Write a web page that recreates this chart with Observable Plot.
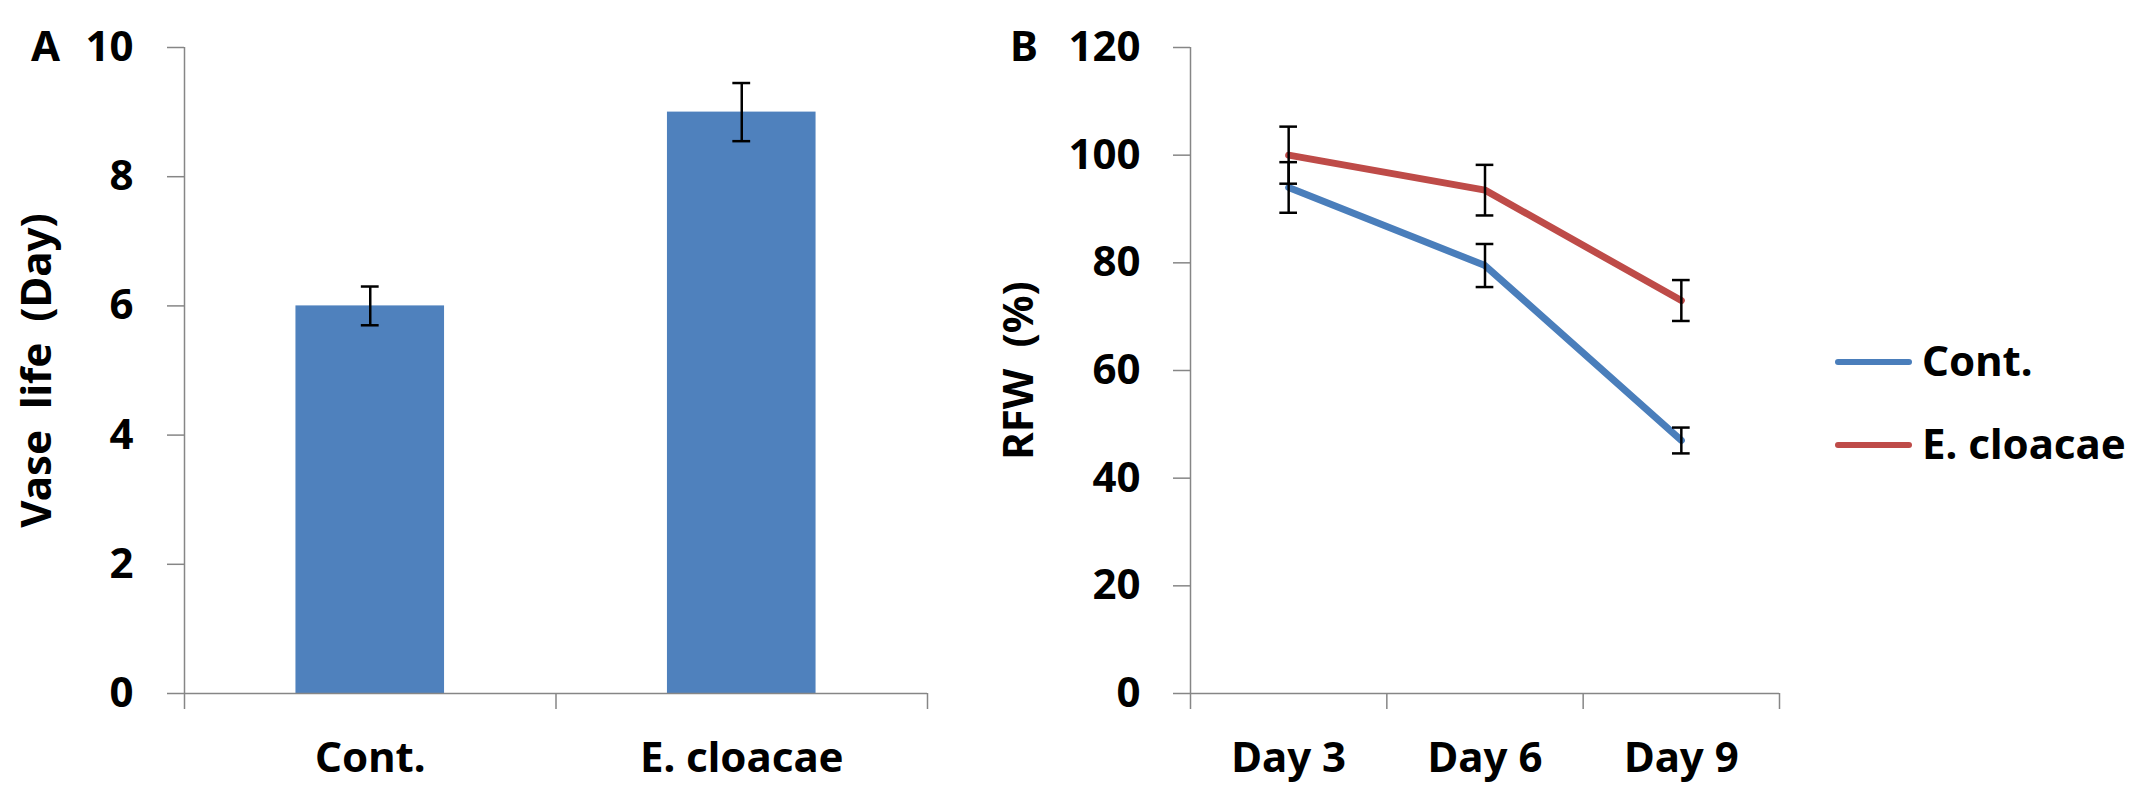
<!DOCTYPE html>
<html>
<head>
<meta charset="utf-8">
<script src="https://cdn.jsdelivr.net/npm/d3@7"></script>
<script src="https://cdn.jsdelivr.net/npm/@observablehq/plot@0.6"></script>
<style>
  html, body { margin: 0; padding: 0; background: #fff; }
  body { width: 2138px; height: 794px; position: relative; overflow: hidden; font-family: "Noto Sans", sans-serif; }
  .panel { position: absolute; top: 0; }
  .plab { position: absolute; font: bold 42px "Noto Sans", sans-serif; color: #000; line-height: 1; }
  .legend { position: absolute; left: 1835px; top: 334px; font: bold 42px "Noto Sans", sans-serif; }
  .legend .row { display: flex; align-items: center; height: 50px; margin-bottom: 33px; }
  .legend .sw { width: 77px; height: 6px; border-radius: 3px; margin-right: 10px; margin-top: 6px; }
  svg [aria-label="y-axis label"] text { word-spacing: 10px; }
</style>
</head>
<body>
<div id="A" class="panel" style="left:0px"></div>
<div id="B" class="panel" style="left:950px"></div>
<div class="plab" style="left:31px; top:24px">A</div>
<div class="plab" style="left:1010px; top:24px">B</div>
<div id="legend" class="legend"></div>
<script>
// ---- Data ----
const categoriesA = ["Cont.", "E. cloacae"];
const vaseLife = [6.0, 9.0];
const vaseLifeErr = [0.3, 0.45];
const yTicksA = [0, 2, 4, 6, 8, 10];

const days = ["Day 3", "Day 6", "Day 9"];
const seriesNames = ["Cont.", "E. cloacae"];
const rfwCont = [94, 79.5, 47];
const rfwContErr = [4.7, 4.0, 2.4];
const rfwEclo = [100, 93.5, 73];
const rfwEcloErr = [5.3, 4.7, 3.8];
const yTicksB = [0, 20, 40, 60, 80, 100, 120];
const seriesColors = ["#4A7EBB", "#BE4B48"];
const barColor = "#4F81BD";

// ---- Tables ----
const barData = categoriesA.map((c, i) => ({cat: c, i, v: vaseLife[i], e: vaseLifeErr[i]}));
const lineData = [];
[rfwCont, rfwEclo].forEach((arr, s) => {
  const errs = s === 0 ? rfwContErr : rfwEcloErr;
  arr.forEach((v, i) => lineData.push({series: seriesNames[s], i, day: days[i], v, e: errs[i]}));
});

const axisGray = "#868686";
const FS = 42;
const font = {fontFamily: "Noto Sans", fontSize: FS + "px", fontWeight: "bold"};

// ---- Panel A ----
const capA = 0.024;
const plotA = Plot.plot({
  width: 940, height: 794,
  marginLeft: 184, marginRight: 13, marginTop: 47, marginBottom: 101,
  style: {...font, background: "white", color: "black", overflow: "visible"},
  x: {domain: [0, categoriesA.length]},
  y: {domain: [0, 10]},
  marks: [
    Plot.rectY(barData, {x1: d => d.i + 0.3, x2: d => d.i + 0.7, y1: 0, y2: "v", fill: barColor}),
    Plot.ruleX(barData, {x: d => d.i + 0.5, y1: d => d.v - d.e, y2: d => d.v + d.e, stroke: "black", strokeWidth: 2.5}),
    Plot.ruleY(barData, {y: d => d.v + d.e, x1: d => d.i + 0.5 - capA, x2: d => d.i + 0.5 + capA, stroke: "black", strokeWidth: 2.5}),
    Plot.ruleY(barData, {y: d => d.v - d.e, x1: d => d.i + 0.5 - capA, x2: d => d.i + 0.5 + capA, stroke: "black", strokeWidth: 2.5}),
    Plot.ruleX([0], {stroke: axisGray, strokeWidth: 1.5}),
    Plot.ruleY([0], {stroke: axisGray, strokeWidth: 1.5}),
    Plot.axisY({ticks: yTicksA, tickSize: 17, tickPadding: 34, stroke: axisGray, strokeWidth: 1.5,
      fill: "black", fontSize: FS, fontWeight: "bold",
      label: "Vase life (Day)", labelAnchor: "center", labelOffset: 163, labelArrow: "none"}),
    Plot.axisX({ticks: d3.range(categoriesA.length + 1), tickFormat: () => "", tickSize: 16, stroke: axisGray, strokeWidth: 1.5, label: null}),
    Plot.axisX({ticks: categoriesA.map((c, i) => i + 0.5), tickFormat: t => categoriesA[Math.floor(t)], tickSize: 0, tickPadding: 49,
      fill: "black", fontSize: FS, fontWeight: "bold", label: null})
  ]
});
document.getElementById("A").append(plotA);

// ---- Panel B ----
const capB = 0.045;
const plotB = Plot.plot({
  width: 1188, height: 794,
  marginLeft: 240, marginRight: 359, marginTop: 47, marginBottom: 101,
  style: {...font, background: "transparent", color: "black", overflow: "visible"},
  x: {domain: [0, days.length]},
  y: {domain: [0, 120]},
  color: {domain: seriesNames, range: seriesColors},
  marks: [
    Plot.ruleX([0], {stroke: axisGray, strokeWidth: 1.5}),
    Plot.ruleY([0], {stroke: axisGray, strokeWidth: 1.5}),
    Plot.line(lineData, {x: d => d.i + 0.5, y: "v", z: "series", stroke: "series", strokeWidth: 7, strokeLinejoin: "round", strokeLinecap: "round"}),
    Plot.ruleX(lineData, {x: d => d.i + 0.5, y1: d => d.v - d.e, y2: d => d.v + d.e, stroke: "black", strokeWidth: 2.5}),
    Plot.ruleY(lineData, {y: d => d.v + d.e, x1: d => d.i + 0.5 - capB, x2: d => d.i + 0.5 + capB, stroke: "black", strokeWidth: 2.5}),
    Plot.ruleY(lineData, {y: d => d.v - d.e, x1: d => d.i + 0.5 - capB, x2: d => d.i + 0.5 + capB, stroke: "black", strokeWidth: 2.5}),
    Plot.axisY({ticks: yTicksB, tickSize: 17, tickPadding: 33, stroke: axisGray, strokeWidth: 1.5,
      fill: "black", fontSize: FS, fontWeight: "bold",
      label: "RFW (%)", labelAnchor: "center", labelOffset: 187, labelArrow: "none"}),
    Plot.axisX({ticks: d3.range(days.length + 1), tickFormat: () => "", tickSize: 16, stroke: axisGray, strokeWidth: 1.5, label: null}),
    Plot.axisX({ticks: days.map((c, i) => i + 0.5), tickFormat: t => days[Math.floor(t)], tickSize: 0, tickPadding: 49,
      fill: "black", fontSize: FS, fontWeight: "bold", label: null})
  ]
});
document.getElementById("B").append(plotB);

// ---- Legend ----
const leg = document.getElementById("legend");
seriesNames.forEach((name, s) => {
  const row = document.createElement("div");
  row.className = "row";
  const sw = document.createElement("div");
  sw.className = "sw";
  sw.style.background = seriesColors[s];
  const tx = document.createElement("span");
  tx.textContent = name;
  row.append(sw, tx);
  leg.append(row);
});
</script>
</body>
</html>
